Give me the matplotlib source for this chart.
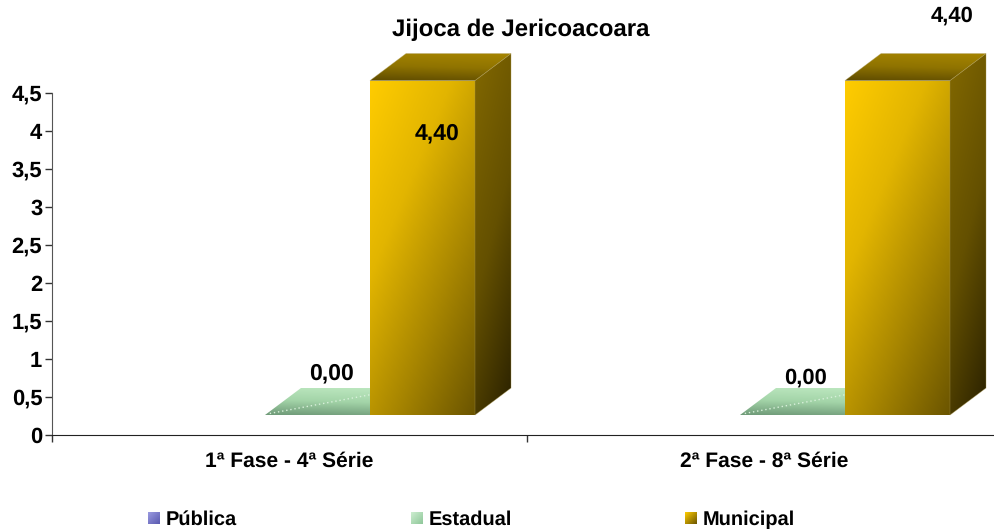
import numpy as np
import matplotlib
matplotlib.use('Agg')
import matplotlib.pyplot as plt
from matplotlib.colors import LinearSegmentedColormap
from matplotlib.patches import Polygon

plt.rcParams['font.family'] = ['Liberation Sans', 'DejaVu Sans']
plt.rcParams['font.weight'] = 'bold'
plt.rcParams['text.hinting'] = 'no_hinting'
plt.rcParams['text.hinting_factor'] = 1

categories = ["1ª Fase - 4ª Série", "2ª Fase - 8ª Série"]
series_names = ["Pública", "Estadual", "Municipal"]
estadual = [0.00, 0.00]
municipal = [4.40, 4.40]
y_ticks = [0, 0.5, 1, 1.5, 2, 2.5, 3, 3.5, 4, 4.5]
y_labels = ["0", "0,5", "1", "1,5", "2", "2,5", "3", "3,5", "4", "4,5"]

W, H = 994, 529
fig = plt.figure(figsize=(W / 100, H / 100), dpi=100)
ax = fig.add_axes([52 / W, (H - 435) / H, 950 / W, 342 / H])
ax.patch.set_alpha(0)

# 3d look: pixels -> data units
px_x = 2 / 950
px_y = 4.5 / 342
depth_x, depth_y = 36 * px_x, 27 * px_y
floor = 20 * px_y
bar_w = 105 * px_x


def shade(poly, colors, angle, edge='none'):
    # gradient across the polygon's bbox, clipped to it
    pts = np.array(poly)
    x0, x1, y0, y1 = pts[:, 0].min(), pts[:, 0].max(), pts[:, 1].min(), pts[:, 1].max()
    u, v = np.meshgrid(np.linspace(0, 1, 120), np.linspace(0, 1, 120))
    g = u * np.cos(angle) + v * np.sin(angle)
    g = (g - g.min()) / (g.max() - g.min())
    cmap = LinearSegmentedColormap.from_list('c', colors)
    im = ax.imshow(g, extent=(x0, x1, y0, y1), origin='upper', cmap=cmap, aspect='auto',
                   interpolation='bilinear', zorder=3)
    p = Polygon(poly, closed=True, transform=ax.transData, fc='none', ec=edge, lw=0.5,
                clip_on=False, zorder=3.5)
    ax.add_patch(p)
    im.set_clip_path(p)
    im.set_clip_box(fig.bbox)


def bar3d(x, value, front, side, top):
    y0, y1 = floor, floor + value
    x1 = x + bar_w
    if value > 0:
        shade([(x, y0), (x1, y0), (x1, y1), (x, y1)], front, np.pi / 3.4)
        shade([(x1, y0), (x1 + depth_x, y0 + depth_y), (x1 + depth_x, y1 + depth_y), (x1, y1)],
              side, np.pi / 2.6, edge='#a8954a80')
        shade([(x, y1), (x1, y1), (x1 + depth_x, y1 + depth_y), (x + depth_x, y1 + depth_y)],
              top, -np.pi / 2.2, edge='#a8954a80')
    else:
        shade([(x, y1), (x1, y1), (x1 + depth_x, y1 + depth_y), (x + depth_x, y1 + depth_y)],
              top, -np.pi / 2.2)


gold_front = ['#ffcc00', '#e2b500', '#a88600', '#6b5500']
gold_side = ['#826800', '#645000', '#2a2100']
gold_top = ['#5e4b00', '#8f7300', '#a68500']
green_top = ['#6f9a78', '#a3d4a8', '#bde8c0']

for i in range(2):
    # bars sit right of the tick centre
    mun_x = i + 0.5 + 80.5 * px_x
    est_x = mun_x - bar_w
    bar3d(est_x, estadual[i], None, None, green_top)
    ax.plot([est_x + 0.01, est_x + bar_w], [floor + 0.02, floor + depth_y * 0.75],
            color='#d8f0da', lw=1, ls=(0, (1, 2)), zorder=4)
    bar3d(mun_x, municipal[i], gold_front, gold_side, gold_top)

ax.set_xlim(0, 2)
ax.set_ylim(0, 4.5)

for s in ['top', 'right']:
    ax.spines[s].set_visible(False)
ax.spines['left'].set_color('#555555')
ax.spines['bottom'].set_color('#222222')
ax.set_yticks(y_ticks)
ax.set_yticklabels(y_labels, fontsize=16, fontweight='bold')
ax.tick_params(axis='y', length=5, width=1, color='#333333', pad=2)
ax.set_xticks([0, 1])
ax.set_xticklabels([])
ax.tick_params(axis='x', length=5, width=1, color='#333333')


# text positioned in reference pixels
def px_text(x, y, s, size=16, ha='center'):
    fig.text(x / W, 1 - y / H, s, fontsize=size, fontweight='bold', ha=ha, va='center', color='black')


px_text(521, 30, "Jijoca de Jericoacoara", 17.5)
px_text(289, 461, categories[0], 15.3)
px_text(764, 461, categories[1], 15.3)
px_text(437, 133, f"{municipal[0]:.2f}".replace('.', ','), 16.5)
px_text(952, 16, f"{municipal[1]:.2f}".replace('.', ','), 15.5)
px_text(331, 373, f"{estadual[0]:.2f}".replace('.', ','), 16.5)
px_text(806, 378, f"{estadual[1]:.2f}".replace('.', ','), 16)

swatches = [(148, ['#5a5ab0', '#9a9ae0']), (411, ['#8fc79a', '#cdeed0']), (685, ['#6b5500', '#ffcc00'])]
for (sx, cols), name in zip(swatches, series_names):
    cax = fig.add_axes([sx / W, 1 - 524 / H, 12 / W, 12 / H])
    g = np.linspace(0, 1, 30)[None, :] + np.linspace(0, 1, 30)[:, None]
    cax.imshow(g, cmap=LinearSegmentedColormap.from_list('s', cols[::-1]), aspect='auto')
    cax.axis('off')
    px_text(sx + 18, 520, name, 14.2, ha='left')

fig.savefig('out.png', dpi=100)
